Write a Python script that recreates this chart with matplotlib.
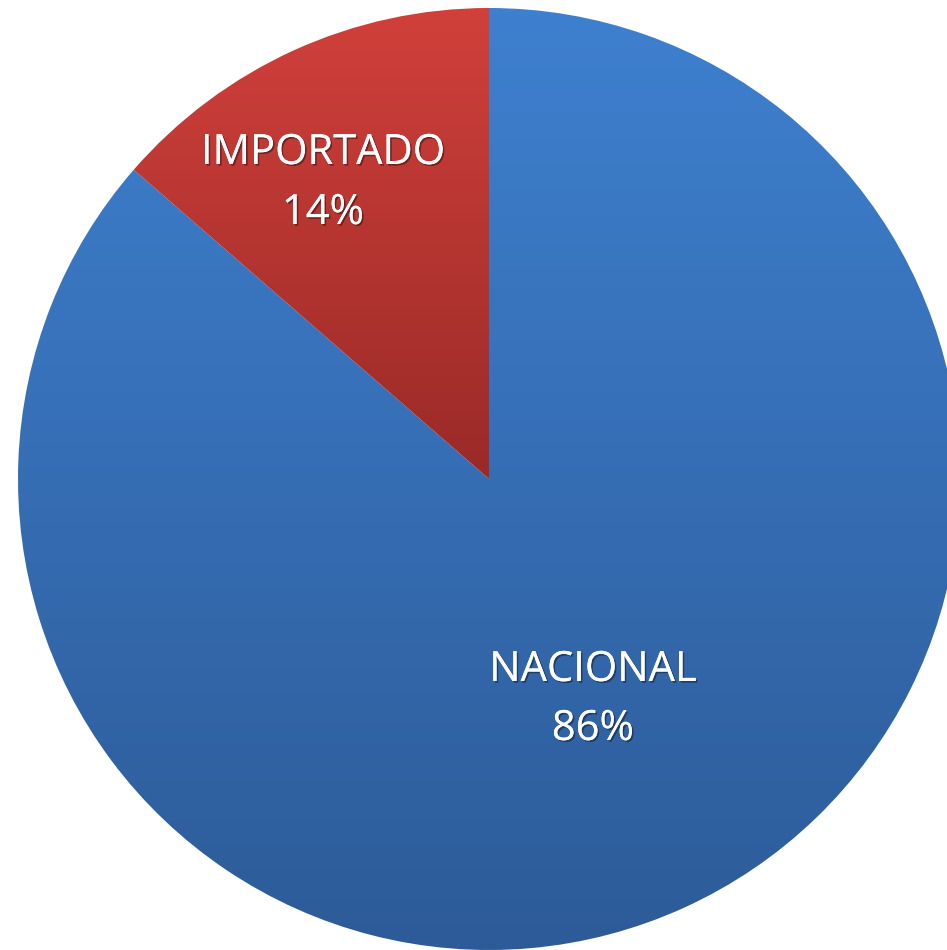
import numpy as np
import matplotlib
matplotlib.use("Agg")
import matplotlib.pyplot as plt
import matplotlib.patheffects as pe
from matplotlib.colors import LinearSegmentedColormap

categories = ["NACIONAL", "IMPORTADO"]
values = [86.4, 13.6]
pct_labels = ["86%", "14%"]

fig = plt.figure(figsize=(9.47, 9.50), dpi=100)
ax = fig.add_axes([0, 0, 1, 1])

cx, cy, r = 489, 471, 471
wedges, _ = ax.pie(values, startangle=90, counterclock=False, radius=r,
                   center=(cx, cy), frame=True,
                   wedgeprops=dict(linewidth=0, edgecolor="none"))
ax.set_xlim(0, 947)
ax.set_ylim(0, 950)
ax.axis("off")

grads = [("#3E80CF", "#2D5B98"), ("#D1403B", "#9A2A27")]
for w, (ctop, cbot) in zip(wedges, grads):
    bb = w.get_path().get_extents(w.get_transform() + ax.transData.inverted())
    cmap = LinearSegmentedColormap.from_list("g", [cbot, ctop])
    g = np.linspace(0, 1, 256).reshape(-1, 1)
    ymin = max(bb.y0, cy - r)
    im = ax.imshow(g, cmap=cmap, origin="lower", aspect="auto",
                   extent=[bb.x0, bb.x1, ymin, bb.y1], zorder=1,
                   interpolation="bilinear")
    w.set_facecolor("none")
    im.set_clip_path(w)

shadow = [pe.withSimplePatchShadow(offset=(1.2, -1.2), shadow_rgbFace="black", alpha=0.4),
          pe.Normal()]
label_pos = [(593, 950 - 670, 950 - 729), (323, 950 - 153, 950 - 213)]
for (x, y1, y2), cat, pl in zip(label_pos, categories, pct_labels):
    ax.text(x, y1, cat, color="white", fontsize=30, ha="center", va="center",
            family="Open Sans", path_effects=shadow, zorder=5)
    ax.text(x, y2, pl, color="white", fontsize=30, ha="center", va="center",
            family="Open Sans", path_effects=shadow, zorder=5)

fig.savefig("out.png", dpi=100, facecolor="white")
